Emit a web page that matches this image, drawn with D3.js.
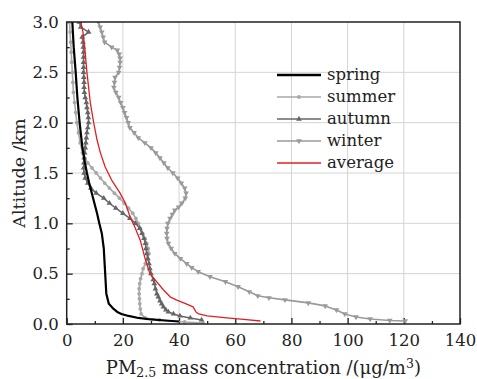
<!DOCTYPE html>
<html><head><meta charset="utf-8">
<script src="https://cdn.jsdelivr.net/npm/d3@7"></script>
<style>body{margin:0;background:#fff}svg{display:block}</style>
</head><body>
<svg id="chart" width="477" height="379"></svg>
<script>
// ---- data: [altitude km, PM2.5 µg/m3] ----
const spring = [[3.0,2.0],[2.75,2.5],[2.5,3.2],[2.25,3.8],[2.0,4.6],[1.75,5.6],[1.6,6.5],[1.5,7.2],[1.4,8.0],[1.25,9.4],[1.1,10.8],[1.0,11.6],[0.9,12.5],[0.75,13.2],[0.6,13.5],[0.5,13.7],[0.4,13.9],[0.3,14.1],[0.2,15.0],[0.15,16.7],[0.12,18],[0.1,19.5],[0.08,22],[0.06,25.5],[0.045,30],[0.035,35],[0.025,40]];
const summer = [[3.0,1.0],[2.9,1.2],[2.8,1.4],[2.7,1.6],[2.6,1.8],[2.5,2.0],[2.4,2.2],[2.3,2.4],[2.2,2.8],[2.1,3.2],[2.0,3.6],[1.9,4.2],[1.8,4.8],[1.7,5.6],[1.65,6.4],[1.6,7.5],[1.55,9.0],[1.5,10.5],[1.45,12],[1.4,13.5],[1.35,15.2],[1.3,17],[1.25,18.8],[1.2,20.5],[1.15,22],[1.1,23.5],[1.05,24.6],[1.0,25.5],[0.95,26.2],[0.9,27],[0.85,27.8],[0.8,28.5],[0.75,29],[0.7,29.3],[0.65,28.8],[0.6,28],[0.55,27.2],[0.5,26.8],[0.45,26.3],[0.4,26],[0.35,25.8],[0.3,25.8],[0.25,25.9],[0.2,26],[0.15,26.2],[0.1,26.5],[0.06,28],[0.04,33],[0.02,42],[0.01,48.5]];
const autumn = [[3.0,4.5],[2.95,5.0],[2.9,7.8],[2.85,5.5],[2.8,5.8],[2.75,5.9],[2.7,6.0],[2.65,6.0],[2.6,6.0],[2.55,6.0],[2.5,6.0],[2.45,6.1],[2.4,6.2],[2.35,6.2],[2.3,6.3],[2.25,6.6],[2.2,7.0],[2.15,7.2],[2.1,7.5],[2.05,7.7],[2.0,7.8],[1.95,7.5],[1.9,7.2],[1.85,7.0],[1.8,6.8],[1.75,6.6],[1.7,6.4],[1.65,6.2],[1.6,6.1],[1.55,6.0],[1.5,6.2],[1.45,6.6],[1.4,7.5],[1.35,8.6],[1.3,10.5],[1.25,13.2],[1.2,15.2],[1.15,17.5],[1.1,20],[1.05,22.5],[1.0,24.5],[0.95,26],[0.9,26.8],[0.85,27.5],[0.8,28],[0.75,28.2],[0.7,28.5],[0.65,28.9],[0.6,29.3],[0.55,29.6],[0.5,30],[0.44,30.8],[0.4,31.2],[0.35,31.6],[0.3,32.1],[0.27,32.6],[0.23,33.2],[0.2,33.8],[0.17,34.4],[0.14,35.3],[0.12,36.2],[0.1,38],[0.08,40.3],[0.06,44],[0.04,48]];
const winter = [[3.0,11.3],[2.95,11.9],[2.9,12.5],[2.85,13.0],[2.8,13.5],[2.75,16],[2.72,18],[2.68,18.7],[2.64,19],[2.6,19],[2.55,18.8],[2.5,18.5],[2.45,17.2],[2.4,17],[2.35,16.8],[2.3,17.5],[2.25,18.5],[2.2,19.2],[2.15,20],[2.1,20.6],[2.05,21.3],[2.0,21.9],[1.95,22.5],[1.9,24],[1.85,25.5],[1.8,27.8],[1.75,30],[1.7,31.7],[1.65,33.2],[1.6,34.6],[1.55,36],[1.5,37.8],[1.45,39.5],[1.4,40.8],[1.35,42],[1.3,42.5],[1.25,42.2],[1.2,41],[1.16,39.8],[1.13,38.5],[1.09,37.6],[1.05,36.8],[1.0,36],[0.95,35.7],[0.9,35.6],[0.85,35.7],[0.8,36.2],[0.75,37.2],[0.7,38.5],[0.65,40.5],[0.6,42.7],[0.56,44.5],[0.52,46.8],[0.47,51],[0.42,56.5],[0.37,61],[0.32,65],[0.28,68],[0.26,72],[0.24,77.7],[0.21,86],[0.18,92],[0.14,96],[0.1,99],[0.07,103],[0.05,108],[0.035,115],[0.03,120.5]];
const average = [[3.0,5.0],[2.9,5.8],[2.75,6.4],[2.5,7.2],[2.2,8.4],[2.0,9.6],[1.83,10.8],[1.7,12],[1.56,13.7],[1.43,16],[1.3,19],[1.2,20.9],[1.06,22.6],[0.98,24],[0.83,26.2],[0.64,28],[0.5,29.6],[0.44,31.4],[0.34,34.4],[0.27,36.8],[0.24,39],[0.2,42.5],[0.17,45],[0.12,46],[0.1,47],[0.08,50],[0.06,57],[0.045,63],[0.03,69]];

const seriesNames = ["spring","summer","autumn","winter","average"];
const xTicks = [0,20,40,60,80,100,120,140];
const yTicks = [0.0,0.5,1.0,1.5,2.0,2.5,3.0];

// ---- layout ----
const svg = d3.select("#chart");
const L = 66.7, R = 460, T = 22, B = 324;
const x = d3.scaleLinear().domain([0,140]).range([L,R]);
const y = d3.scaleLinear().domain([0,3]).range([B,T]);
const font = "'DejaVu Serif', serif";

// grid
svg.append("g").selectAll("line").data(xTicks.slice(1,-1)).join("line")
  .attr("x1",d=>x(d)).attr("x2",d=>x(d)).attr("y1",T).attr("y2",B)
  .attr("stroke","#d4d4d4").attr("stroke-width",1);
svg.append("g").selectAll("line").data(yTicks.slice(1,-1)).join("line")
  .attr("y1",d=>y(d)).attr("y2",d=>y(d)).attr("x1",L).attr("x2",R)
  .attr("stroke","#d4d4d4").attr("stroke-width",1);

// axes with inward ticks
const xAxis = d3.axisBottom(x).tickValues(xTicks).tickSize(-6).tickPadding(10).tickFormat(d3.format("d"));
const xMinor = d3.axisBottom(x).tickValues(d3.range(10,140,20)).tickSize(-3).tickFormat("");
const yAxis = d3.axisLeft(y).tickValues(yTicks).tickSize(-6).tickPadding(8).tickFormat(d3.format(".1f"));
const yMinor = d3.axisLeft(y).tickValues(d3.range(0.25,3,0.5)).tickSize(-3).tickFormat("");

function style(g){
  g.select(".domain").remove();
  g.selectAll("line").attr("stroke","#222").attr("stroke-width",1.3);
  g.selectAll("text").attr("font-family",font).attr("font-size",16.5).attr("fill","#222");
}
svg.append("g").attr("transform",`translate(0,${B})`).call(xAxis).call(style);
svg.append("g").attr("transform",`translate(0,${B})`).call(xMinor).call(style);
svg.append("g").attr("transform",`translate(${L},0)`).call(yAxis).call(style);
svg.append("g").attr("transform",`translate(${L},0)`).call(yMinor).call(style);

// clip
svg.append("clipPath").attr("id","clip").append("rect").attr("x",L).attr("y",T).attr("width",R-L).attr("height",B-T);
const plot = svg.append("g").attr("clip-path","url(#clip)");

const line = d3.line().x(d=>x(d[1])).y(d=>y(d[0]));

const cfg = {
  spring:{data:spring,color:"#000",w:2.2,marker:null},
  summer:{data:summer,color:"#a8a8a8",w:1.6,marker:"circle"},
  autumn:{data:autumn,color:"#666",w:1.5,marker:"up"},
  winter:{data:winter,color:"#9a9a9a",w:1.6,marker:"down"},
  average:{data:average,color:"#e02020",w:1.3,marker:null}
};
const drawOrder = ["winter","summer","autumn","spring","average"];
function drawMarker(g, type, color, cx, cy){
  if(type==="circle"){
    g.append("circle").attr("cx",cx).attr("cy",cy).attr("r",1.9).attr("fill",color);
  } else {
    const p = d3.symbol().type(d3.symbolTriangle).size(14)();
    g.append("path").attr("d",p).attr("fill",color)
      .attr("transform",`translate(${cx},${cy}) rotate(${type==="down"?180:0})`);
  }
}
drawOrder.forEach(k=>{
  const c = cfg[k];
  plot.append("path").datum(c.data).attr("d",line).attr("fill","none")
    .attr("stroke",c.color).attr("stroke-width",c.w).attr("stroke-linejoin","round");
  if(c.marker){
    const g = plot.append("g");
    c.data.forEach(d=>drawMarker(g,c.marker,c.color,x(d[1]),y(d[0])));
  }
});

// frame
svg.append("rect").attr("x",L).attr("y",T).attr("width",R-L).attr("height",B-T)
  .attr("fill","none").attr("stroke","#222").attr("stroke-width",1.5);

// legend
const lg = svg.append("g");
seriesNames.forEach((k,i)=>{
  const c = cfg[k], yy = 75 + i*22;
  lg.append("line").attr("x1",277).attr("x2",321).attr("y1",yy).attr("y2",yy)
    .attr("stroke",c.color).attr("stroke-width",k==="spring"?2.6:1.6);
  if(c.marker) drawMarker(lg,c.marker,c.color,299,yy);
  lg.append("text").attr("x",327).attr("y",yy+5).text(k)
    .attr("font-family",font).attr("font-size",16.5).attr("fill","#222");
});

// axis titles
const xt = svg.append("text").attr("x",(L+R)/2).attr("y",374).attr("text-anchor","middle")
  .attr("font-family",font).attr("font-size",18).attr("fill","#222");
xt.append("tspan").text("PM");
xt.append("tspan").text("2.5").attr("font-size",12.5).attr("dy",3);
xt.append("tspan").text(" mass concentration /(μg/m").attr("dy",-3);
xt.append("tspan").text("3").attr("font-size",12.5).attr("dy",-6);
xt.append("tspan").text(")").attr("dy",6);

svg.append("text").attr("transform",`translate(25,${(T+B)/2}) rotate(-90)`)
  .attr("text-anchor","middle").attr("font-family",font).attr("font-size",17.5).attr("fill","#222")
  .text("Altitude /km");
</script>
</body></html>
